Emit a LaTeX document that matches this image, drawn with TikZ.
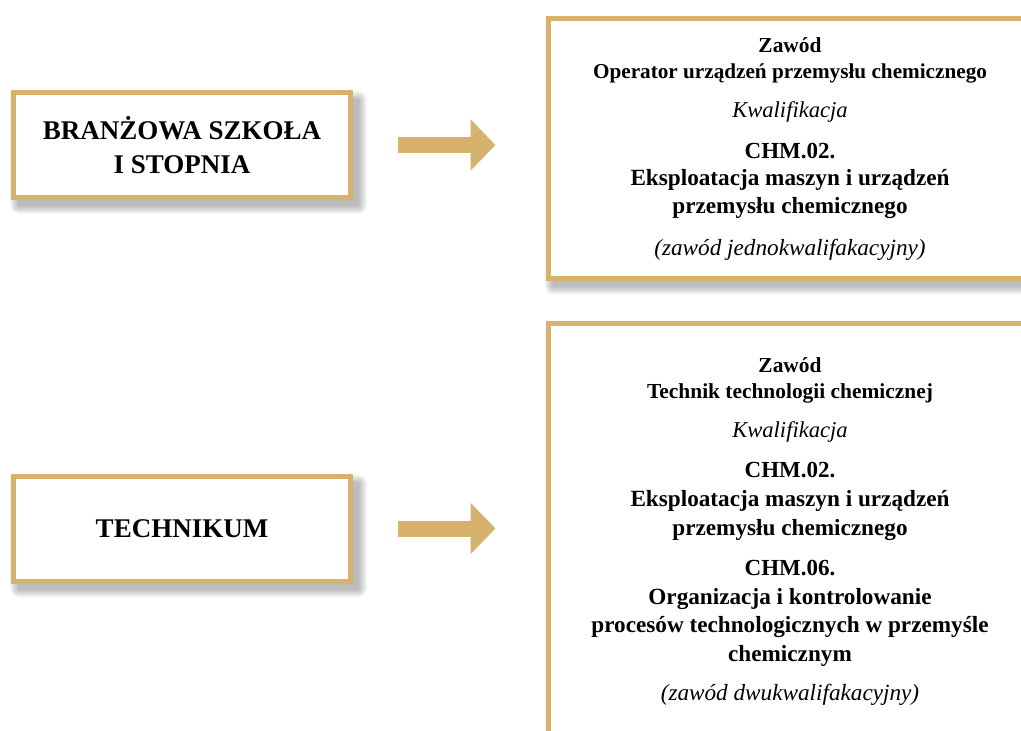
\documentclass[tikz,border=0pt]{standalone}
\usepackage{fontspec}
\setmainfont{Liberation Serif}
\usepackage{tikz}
\usetikzlibrary{arrows.meta, backgrounds}

\definecolor{gold}{RGB}{214,178,108}

\begin{document}
\begin{tikzpicture}[x=1pt,y=-1pt]
      \tikzset{school box/.style={draw=gold, line width=5pt, fill=white,
          minimum width=337pt, minimum height=105pt, align=center,
          font=\bfseries\fontsize{27}{34}\selectfont},
        info box/.style={draw=gold, line width=5pt, fill=white,
          anchor=north west, minimum width=600pt},
        shadow step/.style={fill=black, opacity=0.032, rounded corners=#1pt},
        gold arrow/.style={draw=gold, line width=16pt,
          -{Triangle[length=25pt,width=50pt]},
          shorten <=45pt, shorten >=50pt}
      }
      \useasboundingbox (0,0) rectangle (1021,731);
      \clip (0,0) rectangle (1021,731);

      \node [school box] (szkola) at (182,145) {BRANŻOWA SZKOŁA\\I STOPNIA};
      \node [school box] (technikum) at (182,528.5) {TECHNIKUM};

      \node [info box, minimum height=260pt] (operator) at (545.5,15.5) {};
      \node [info box, minimum height=500pt] (technik) at (545.5,320.5) {};

      \draw [gold arrow] (szkola.east) -- (szkola.east -| operator.west);
      \draw [gold arrow] (technikum.east) -- (technikum.east -| technik.west);

      % cienie pod ramkami
      \begin{pgfonlayer}{background}
        \fill [white] (0,0) rectangle (1021,731);
        \foreach \b in {szkola, technikum, operator, technik}
          \foreach \k in {1,...,9}
            \fill [shadow step=\k] ([shift={(8-\k,10-\k)}]\b.north west)
              rectangle ([shift={(5+\k,5+\k)}]\b.south east);
      \end{pgfonlayer}

      % tekst w ramkach po prawej
      \foreach \y/\f/\t in {
          52/\bfseries\fontsize{21.4}{25}/Zawód,
          78/\bfseries\fontsize{21.2}{25}/Operator urządzeń przemysłu chemicznego,
          117/\itshape\fontsize{22.6}{27}/Kwalifikacja,
          158/\bfseries\fontsize{23}{27}/CHM.02.,
          185/\bfseries\fontsize{23.2}{27}/Eksploatacja maszyn i urządzeń,
          213/\bfseries\fontsize{23.2}{27}/przemysłu chemicznego,
          255/\itshape\fontsize{23.2}{27}/(zawód jednokwalifakacyjny),
          372/\bfseries\fontsize{21.4}{25}/Zawód,
          398/\bfseries\fontsize{21.4}{25}/Technik technologii chemicznej,
          437/\itshape\fontsize{22.6}{27}/Kwalifikacja,
          477/\bfseries\fontsize{23}{27}/CHM.02.,
          506/\bfseries\fontsize{23.2}{27}/Eksploatacja maszyn i urządzeń,
          535/\bfseries\fontsize{23.2}{27}/przemysłu chemicznego,
          575/\bfseries\fontsize{23}{27}/CHM.06.,
          604/\bfseries\fontsize{23.2}{27}/Organizacja i kontrolowanie,
          632/\bfseries\fontsize{23.2}{27}/procesów technologicznych w przemyśle,
          661/\bfseries\fontsize{23.2}{27}/chemicznym,
          700/\itshape\fontsize{23.2}{27}/(zawód dwukwalifakacyjny)}
        \node [anchor=base, inner sep=0pt, font=\f\selectfont] (l\y) at (790,\y) {\t};

    \end{tikzpicture}
\end{document}
